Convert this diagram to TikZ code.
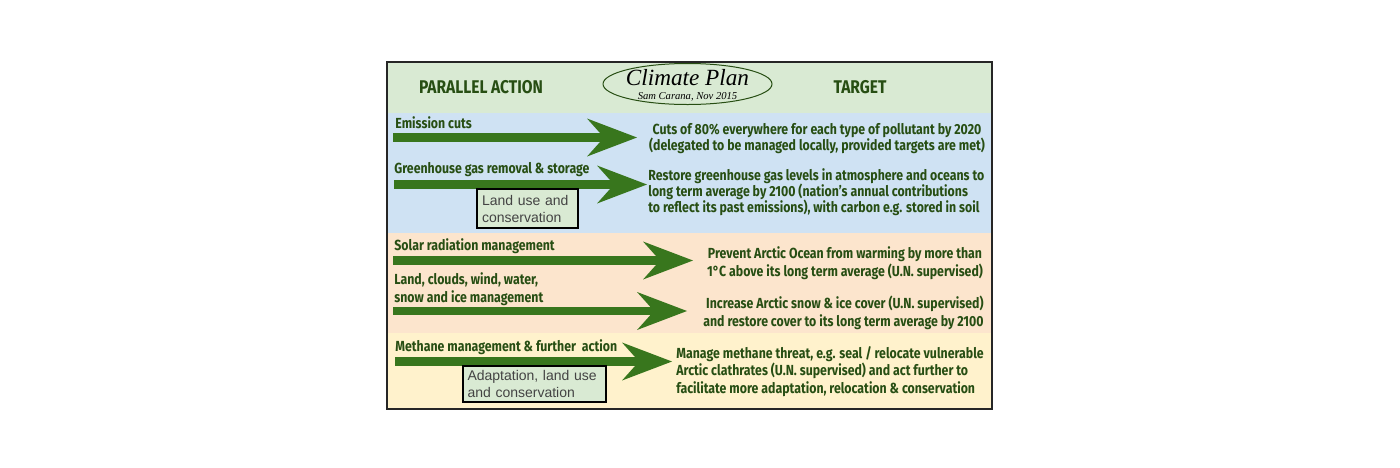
\documentclass[tikz,border=0pt]{standalone}
\usepackage{fontspec}
\setmainfont{Liberation Sans}
\newfontfamily\condfont[FakeStretch=0.845]{Fira Sans}
\newfontfamily\planfont{Liberation Serif}
\usetikzlibrary{arrows.meta,shapes.geometric}
\definecolor{hdrgreen}{HTML}{D9EAD3}
\definecolor{bandblue}{HTML}{CFE2F3}
\definecolor{bandorange}{HTML}{FCE5CD}
\definecolor{bandyellow}{HTML}{FFF2CC}
\definecolor{arrowgreen}{HTML}{38761D}
\definecolor{textgreen}{HTML}{274E13}
\definecolor{boxgrey}{HTML}{434343}
\newcommand\tgtfont[1]{\condfont\bfseries\fontsize{7.3}{#1}\selectfont}
\tikzset{
  frame/.style={draw=black!85,line width=0.9pt},
  colhead/.style={font=\condfont\bfseries\fontsize{9.2}{11}\selectfont,
    text=textgreen,inner sep=0pt,anchor=base},
  actlbl/.style={font=\tgtfont{9.2},text=textgreen,inner sep=0pt,
    anchor=base west,align=left},
  tgt/.style={text=textgreen,inner sep=0pt},
  bigarrow/.style={-{Stealth[length=25pt,width=19pt,inset=8.5pt,line width=0pt]},
    draw=arrowgreen,line width=4.3pt},
  notebox/.style={draw=black,line width=0.8pt,fill=hdrgreen,
    font=\fontsize{7}{8.5}\selectfont,text=boxgrey,align=left,inner sep=0pt},
  plan/.style={ellipse,draw=textgreen,line width=0.5pt,
    minimum width=84.5pt,minimum height=20.5pt},
}

\begin{document}
\begin{tikzpicture}[x=0.5pt,y=-0.5pt]
  \useasboundingbox (0,0) rectangle (1400,467);
  \fill[hdrgreen] (387,62) rectangle (992,113);
  \fill[bandblue] (387,113) rectangle (992,233);
  \fill[bandorange] (387,233) rectangle (992,333);
  \fill[bandyellow] (387,333) rectangle (992,409);

  \node[colhead] (hact) at (481,93.3) {PARALLEL ACTION};
  \node[colhead] (htgt) at (860,93.3) {TARGET};
  \node[plan] (cplan) at (687.5,84) {};
  \node[anchor=base,inner sep=0pt,font=\planfont\itshape\fontsize{11.6}{13}\selectfont]
    (ctitle) at (687.5,85) {Climate Plan};
  \node[anchor=base,inner sep=0pt,font=\planfont\itshape\fontsize{5.3}{6}\selectfont]
    (cauth) at (687.5,99.3) {Sam Carana, Nov 2015};

  \node[actlbl] (lemis) at (395,128) {Emission cuts};
  \node[actlbl] (lghg) at (394,173) {Greenhouse gas removal \& storage};
  \node[actlbl] (lsolar) at (394,250) {Solar radiation management};
  \node[actlbl] (lland) at (394,302.7) {Land, clouds, wind, water,\\snow and ice management};
  \node[actlbl] (lmeth) at (395,351.7) {Methane management \& further\ \ action};

  \node[tgt,font=\tgtfont{8},align=center,anchor=base] (temis) at (817,150)
    {Cuts of 80\% everywhere for each type of pollutant by 2020\\
     (delegated to be managed locally, provided targets are met)};
  \node[tgt,font=\tgtfont{8},align=left,anchor=base west] (tghg) at (648,212)
    {Restore greenhouse gas levels in atmosphere and oceans to\\
     long term average by 2100 (nation’s annual contributions\\
     to reflect its past emissions), with carbon e.g. stored in soil};
  \node[tgt,font=\tgtfont{9.2},align=center,anchor=base] (tsolar) at (845,276.7)
    {Prevent Arctic Ocean from warming by more than\\
     1°C above its long term average (U.N. supervised)};
  \node[tgt,font=\tgtfont{9.2},align=right,anchor=base east] (tland) at (984,326.7)
    {Increase Arctic snow \& ice cover (U.N. supervised)\\
     and restore cover to its long term average by 2100};
  \node[tgt,font=\tgtfont{8.75},align=left,anchor=base west] (tmeth) at (676,393.3)
    {Manage methane threat, e.g. seal / relocate vulnerable\\
     Arctic clathrates (U.N. supervised) and act further to\\
     facilitate more adaptation, relocation \& conservation};

  \coordinate (a1s) at (393,137.5);  \coordinate (a1e) at (637,137.5);
  \coordinate (a2s) at (394,184.5);  \coordinate (a2e) at (647,184.5);
  \coordinate (a3s) at (393,260.5);  \coordinate (a3e) at (693,260.5);
  \coordinate (a4s) at (393,311);    \coordinate (a4e) at (687,311);
  \coordinate (a5s) at (395,361.5);  \coordinate (a5e) at (672,361.5);
  \foreach \i in {1,...,5}
    \draw[bigarrow] (a\i s) -- (a\i e);

  \node[notebox,minimum width=50.5pt,minimum height=19.5pt,text width=45.5pt]
    (nland) at (527.5,208.5) {Land use and\\conservation};
  \node[notebox,minimum width=71.5pt,minimum height=18pt,text width=67pt]
    (nadapt) at (534.5,384) {Adaptation, land use\\and conservation};

  \draw[frame] (387,62) rectangle (992,409);
\end{tikzpicture}
\end{document}
